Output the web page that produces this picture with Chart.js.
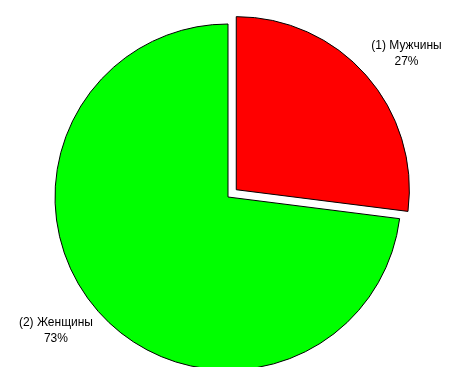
<!DOCTYPE html>
<html>
<head>
<meta charset="utf-8">
<script src="https://cdn.jsdelivr.net/npm/chart.js@4"></script>
<style>
  html, body { margin: 0; padding: 0; background: #fff; }
  #wrap { width: 450px; height: 367px; }
</style>
</head>
<body>
<div id="wrap"><canvas id="genderChart"></canvas></div>
<script>
// Pie: gender split
const categories = ['(1) Мужчины', '(2) Женщины'];
const shares = [27, 73];
const sliceColors = ['#ff0000', '#00ff00'];
const sliceOffsets = [44, 0]; // arc element moves by roughly offset/4

// same shift the arc element applies when drawing
function arcShift(arc, offset) {
    const circ = arc.endAngle - arc.startAngle;
    const fix = 1 - Math.sin(Math.min(Math.PI, circ));
    return offset / 4 * (1 + fix);
}

// labels sit outside the pie, box corner anchored on the slice bisector
const outsideLabels = {
    id: 'outsideLabels',
    afterDatasetsDraw(chart) {
        const ctx = chart.ctx;
        const meta = chart.getDatasetMeta(0);
        const total = shares.reduce((a, b) => a + b, 0);
        ctx.save();
        ctx.font = '12px "Liberation Sans", Arial, sans-serif';
        ctx.fillStyle = '#000';
        ctx.textBaseline = 'top';
        ctx.textAlign = 'center';
        const lineH = 16;
        meta.data.forEach((arc, i) => {
            const mid = (arc.startAngle + arc.endAngle) / 2;
            const off = arcShift(arc, sliceOffsets[i]);
            const cx = arc.x + Math.cos(mid) * off;
            const cy = arc.y + Math.sin(mid) * off;
            const r = arc.outerRadius + 7;
            const px = cx + Math.cos(mid) * r;
            const py = cy + Math.sin(mid) * r;
            const lines = [categories[i], Math.round(shares[i] / total * 100) + '%'];
            const w = Math.max(...lines.map(t => ctx.measureText(t).width));
            const h = lines.length * lineH;
            const left = Math.cos(mid) >= 0 ? px : px - w;
            const top = Math.sin(mid) >= 0 ? py : py - h;
            lines.forEach((t, k) => {
                ctx.fillText(t, left + w / 2, top + k * lineH + 1);
            });
        });
        ctx.restore();
    }
};

new Chart(document.getElementById('genderChart'), {
    type: 'pie',
    data: {
        labels: categories,
        datasets: [{
            data: shares,
            backgroundColor: sliceColors,
            borderColor: '#000',
            borderWidth: 1,
            offset: sliceOffsets
        }]
    },
    options: {
        responsive: true,
        maintainAspectRatio: false,
        animation: false,
        radius: 173,
        layout: {
            padding: { left: 6, right: 0, top: 27, bottom: 0 }
        },
        plugins: {
            legend: { display: false },
            tooltip: { enabled: false }
        }
    },
    plugins: [outsideLabels]
});
</script>
</body>
</html>
